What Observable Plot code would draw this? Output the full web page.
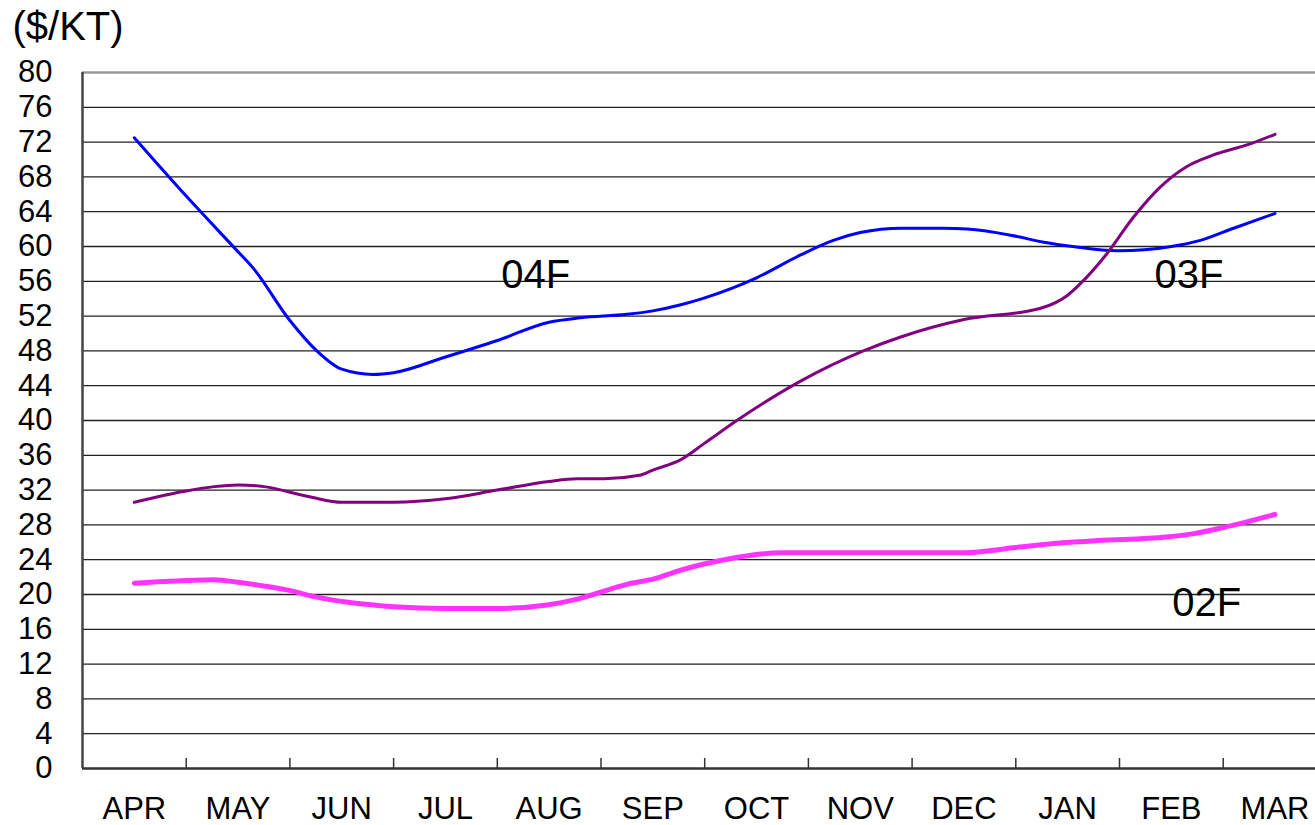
<!DOCTYPE html>
<html><head><meta charset="utf-8">
<script src="https://cdn.jsdelivr.net/npm/d3@7"></script>
<script src="https://cdn.jsdelivr.net/npm/@observablehq/plot@0.6"></script>
<style>body{margin:0;background:#fff;overflow:hidden} svg{display:block}</style>
</head><body><div id="chart"></div>
<script>
const months = ["APR","MAY","JUN","JUL","AUG","SEP","OCT","NOV","DEC","JAN","FEB","MAR"];
const yTicks = d3.range(0, 81, 4);
const unitLabel = "($/KT)";

// [month index, value]
const f04 = [[0,72.5],[0.5,65.8],[1.0,59.4],[1.14,57.6],[1.5,51.5],[1.76,48.0],[2.0,45.9],[2.3,45.3],[2.5,45.5],[3.0,47.3],[3.5,49.2],[4.0,51.3],[4.3,51.8],[4.75,52.2],[5.0,52.6],[5.27,53.3],[5.5,54.1],[6.0,56.4],[6.42,59.0],[6.74,60.7],[7.0,61.6],[7.4,62.1],[7.8,62.1],[8.03,62.0],[8.45,61.3],[8.77,60.5],[9.05,60.0],[9.48,59.5],[10.0,60.0],[10.28,60.7],[10.6,62.1],[11.0,63.8]];
const f03 = [[0,30.6],[0.5,31.9],[0.77,32.4],[1.0,32.6],[1.25,32.4],[1.7,31.2],[2.0,30.6],[2.5,30.6],[3.0,31.0],[3.5,32.0],[4.0,33.0],[4.27,33.3],[4.53,33.3],[4.87,33.7],[5.0,34.3],[5.27,35.5],[5.5,37.4],[5.81,40.0],[6.42,44.5],[7.03,48.0],[7.39,49.6],[8.0,51.6],[8.74,52.9],[9.0,54.4],[9.12,55.7],[9.38,59.2],[9.63,63.3],[9.89,66.8],[10.15,69.2],[10.4,70.5],[10.76,71.8],[11.0,72.9]];
const f02 = [[0,21.3],[0.5,21.6],[0.77,21.7],[1.0,21.4],[1.48,20.5],[1.76,19.7],[2.06,19.1],[2.5,18.6],[3.0,18.4],[3.5,18.4],[3.98,18.8],[4.28,19.5],[4.76,21.2],[5.01,21.8],[5.27,22.8],[5.74,24.1],[6.0,24.6],[6.24,24.8],[8.0,24.8],[8.5,25.4],[9.02,26.0],[9.29,26.2],[9.95,26.6],[10.22,27.0],[10.5,27.7],[11.0,29.2]];

const seriesNames = ["04F","03F","02F"];
const seriesColors = ["#0000ff","#800080","#ff33ff"];
const seriesWidths = [3,3,5];
const labelX = [3.87, 10.17, 10.34];
const labelY = [56.7, 56.7, 19.0];

const seriesData = [f04, f03, f02];
const rows = seriesData.flatMap((s, k) => s.map(([m, v]) => ({series: seriesNames[k], m, v})));
const labels = seriesNames.map((name, k) => ({name, m: labelX[k], v: labelY[k]}));

const xDomain = [-0.5, 11.39];
const monthPos = months.map((d, i) => i);
const boundaries = d3.range(0.5, 11, 1);

const chart = Plot.plot({
  width: 1315, height: 825,
  marginLeft: 82, marginRight: 0, marginTop: 72, marginBottom: 57,
  style: {fontFamily: "'Liberation Sans', Arial, sans-serif", background: "#fff", color: "#000", overflow: "visible"},
  x: {domain: xDomain},
  y: {domain: [0, 80]},
  marks: [
    Plot.ruleY(yTicks.filter(d => d > 0 && d < 80), {stroke: "#222", strokeWidth: 1.3}),
    Plot.ruleY([80], {stroke: "#999", strokeWidth: 2.5}),
    Plot.ruleY([0], {stroke: "#333", strokeWidth: 2.5}),
    Plot.ruleX([xDomain[0]], {stroke: "#444", strokeWidth: 2.5}),
    Plot.axisY({ticks: yTicks, tickSize: 0, tickPadding: 30, fontSize: 31, label: null}),
    Plot.axisX({ticks: boundaries, tickSize: -10, tickFormat: () => "", label: null, stroke: "#333", strokeWidth: 1.5}),
    Plot.axisX({ticks: monthPos, tickSize: 0, tickPadding: 28, tickFormat: i => months[i], fontSize: 31, label: null}),
    ...seriesNames.map((name, k) => Plot.line(rows.filter(r => r.series === name), {
      x: "m", y: "v", stroke: seriesColors[k], strokeWidth: seriesWidths[k], curve: "monotone-x", strokeLinejoin: "round"
    })),
    Plot.text(labels, {x: "m", y: "v", text: "name", fontSize: 40, fill: "#000"}),
    Plot.text([unitLabel], {frameAnchor: "top-left", lineAnchor: "middle", dx: -70, dy: -45, textAnchor: "start", fontSize: 40, fill: "#000", text: d => d, style: "letter-spacing:2px"})
  ]
});
document.getElementById("chart").append(chart);
</script>
</body></html>
